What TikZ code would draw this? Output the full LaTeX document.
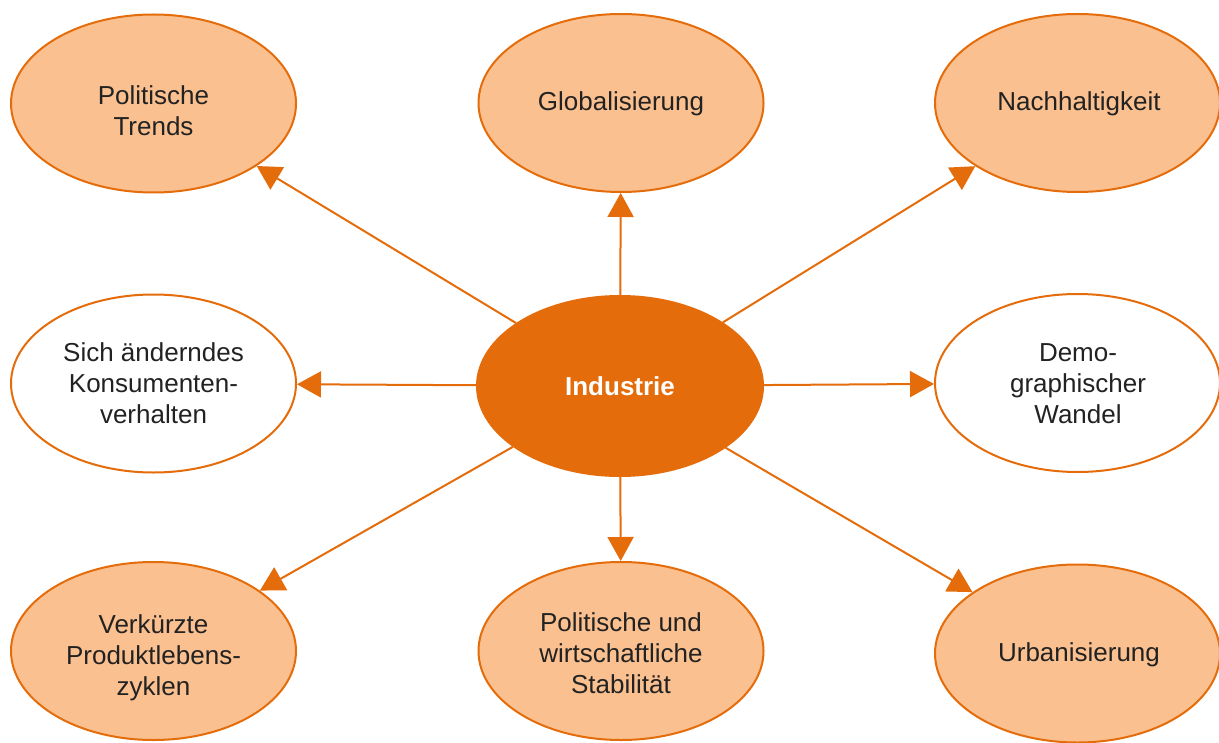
\documentclass[tikz,border=0pt]{standalone}
\usepackage{fontspec}
\setmainfont{Liberation Sans}
\usetikzlibrary{shapes.geometric,arrows.meta}
\definecolor{ordark}{HTML}{E46C0A}
\definecolor{orlight}{HTML}{FAC090}
\definecolor{txt}{HTML}{222222}
\begin{document}
\begin{tikzpicture}[x=0.5pt,y=-0.5pt,
  bubble/.style={ellipse,draw=ordark,line width=1pt,fill=orlight,minimum width=142.5pt,minimum height=89pt,inner sep=0pt},
  wbubble/.style={bubble,fill=white},
  hub/.style={ellipse,draw=ordark,line width=1pt,fill=ordark,minimum width=143pt,minimum height=90pt,inner sep=0pt},
  lbl/.style={text=txt,font=\fontsize{13pt}{15.5pt}\selectfont,align=center,inner sep=0pt},
  conn/.style={draw=ordark,line width=1pt,-{Triangle[length=12pt,width=13pt]}}
]
\useasboundingbox (0,0) rectangle (1219,743);
\node[hub] (ind) at (620,386) {};
\node[text=white,font=\fontsize{13pt}{15.5pt}\selectfont\bfseries,inner sep=0pt] (indt) at (620,386) {Industrie};

\node[bubble] (pt) at (153.5,103.5) {};
\node[lbl] (ptt) at (153.5,111) {Politische\\Trends};
\node[bubble] (gl) at (621,103) {};
\node[lbl] (glt) at (621,104) {Globalisierung};
\node[bubble] (na) at (1077.5,103) {};
\node[lbl] (nat) at (1079,104) {Nachhaltigkeit};

\node[wbubble] (si) at (153.5,383.5) {};
\node[lbl] (sit) at (153.5,383.5) {Sich änderndes\\Konsumenten-\\verhalten};
\node[wbubble] (de) at (1077.5,383) {};
\node[lbl] (det) at (1078,383.5) {Demo-\\graphischer\\Wandel};

\node[bubble] (ve) at (153.5,651) {};
\node[lbl] (vet) at (153.5,658) {Verkürzte\\Produktlebens-\\zyklen};
\node[bubble] (po) at (621,651) {};
\node[lbl] (pot) at (621,653) {Politische und\\wirtschaftliche\\Stabilität};
\node[bubble] (ur) at (1077.5,653.5) {};
\node[lbl] (urt) at (1079,655) {Urbanisierung};

\foreach \t in {pt,gl,na,si,de,ve,po,ur}
  \draw[conn] (ind) -- (\t);
\end{tikzpicture}
\end{document}
